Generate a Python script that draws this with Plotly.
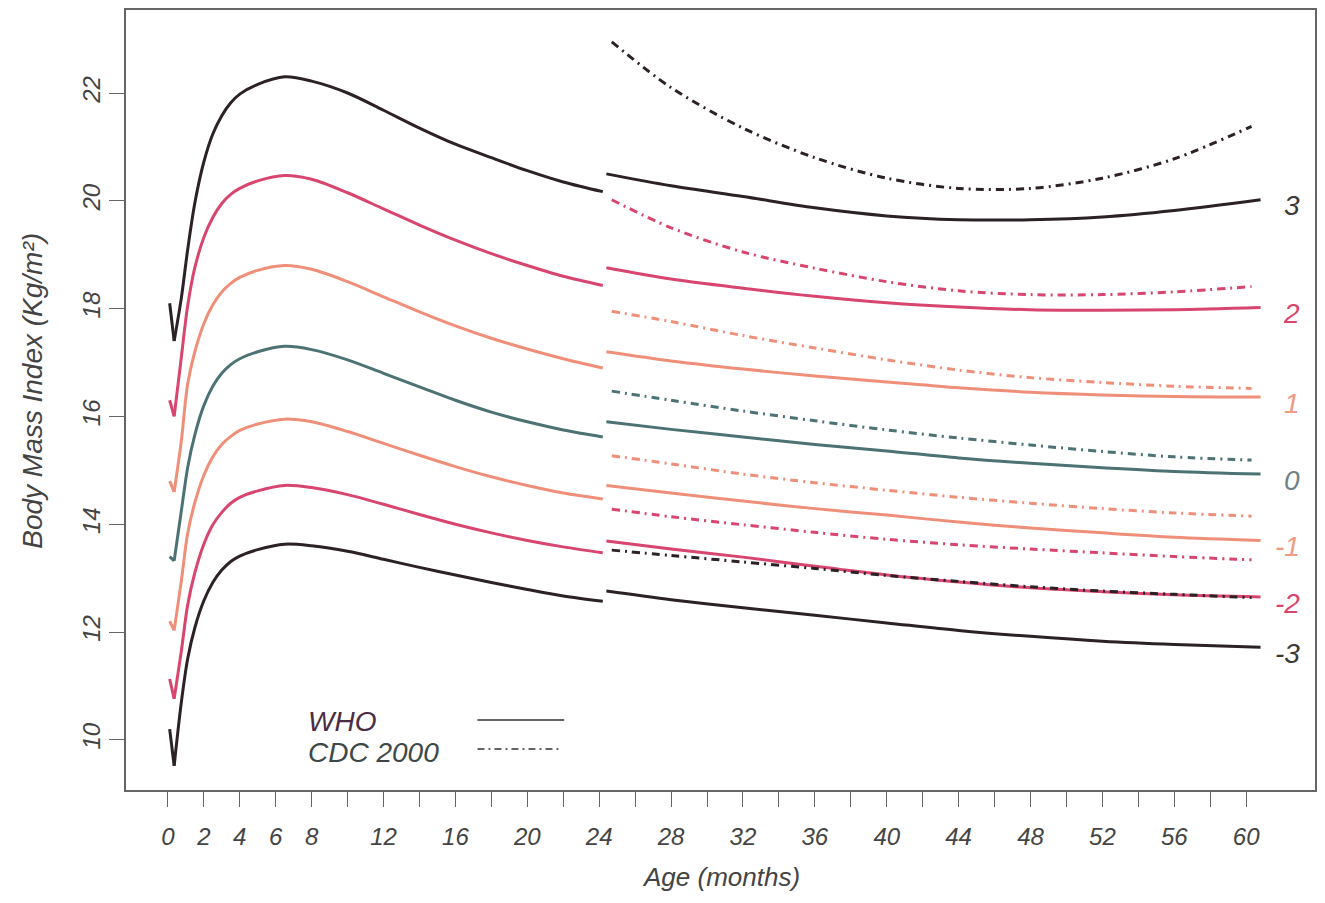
import plotly.graph_objects as go

# ---------------- data ----------------
# WHO 0-24 months (first two points: birth value and the arrow tip)
months_early = [0.1, 0.35, 0.75, 1.1, 1.5, 2.0, 2.5, 3.0, 3.5, 4.0, 5.0, 6.5, 8, 10, 12, 14, 16, 18, 20, 22, 24.2]
who_early_p3 = [18.1, 17.4, 18.2, 19.09, 19.96, 20.72, 21.24, 21.58, 21.82, 21.98, 22.16, 22.3, 22.22, 22.0, 21.68, 21.35, 21.05, 20.8, 20.56, 20.35, 20.17]
who_early_p2 = [16.3, 16.0, 17.1, 18.05, 18.76, 19.32, 19.69, 19.95, 20.12, 20.23, 20.37, 20.47, 20.4, 20.15, 19.85, 19.55, 19.27, 19.02, 18.8, 18.6, 18.43]
who_early_p1 = [14.8, 14.6, 15.55, 16.6, 17.2, 17.72, 18.07, 18.31, 18.47, 18.58, 18.71, 18.8, 18.73, 18.5, 18.22, 17.94, 17.68, 17.45, 17.25, 17.07, 16.9]
who_early_0 = [13.4, 13.32, 14.25, 15.05, 15.66, 16.2, 16.56, 16.8, 16.96, 17.07, 17.2, 17.3, 17.24, 17.05, 16.8, 16.55, 16.3, 16.08, 15.9, 15.75, 15.62]
who_early_m1 = [12.2, 12.03, 12.95, 13.83, 14.4, 14.91, 15.25, 15.48, 15.63, 15.74, 15.86, 15.95, 15.9, 15.72, 15.5, 15.28, 15.07, 14.88, 14.72, 14.58, 14.47]
who_early_m2 = [11.13, 10.76, 11.65, 12.5, 13.1, 13.63, 13.99, 14.22, 14.39, 14.5, 14.62, 14.72, 14.68, 14.55, 14.37, 14.18, 14.0, 13.84, 13.7, 13.58, 13.47]
who_early_m3 = [10.2, 9.52, 10.7, 11.5, 12.08, 12.58, 12.92, 13.15, 13.31, 13.41, 13.53, 13.63, 13.6, 13.5, 13.35, 13.2, 13.06, 12.92, 12.79, 12.67, 12.57]

# WHO 24-60 months
months_late = [24.4, 28, 32, 36, 40, 44, 48, 52, 56, 60.8]
who_late_p3 = [20.5, 20.28, 20.08, 19.87, 19.72, 19.65, 19.65, 19.7, 19.82, 20.02]
who_late_p2 = [18.76, 18.55, 18.38, 18.23, 18.11, 18.03, 17.98, 17.97, 17.98, 18.02]
who_late_p1 = [17.2, 17.03, 16.88, 16.75, 16.64, 16.53, 16.45, 16.4, 16.37, 16.36]
who_late_0 = [15.9, 15.76, 15.62, 15.48, 15.36, 15.23, 15.13, 15.05, 14.98, 14.93]
who_late_m1 = [14.72, 14.58, 14.43, 14.29, 14.17, 14.04, 13.93, 13.84, 13.76, 13.7]
who_late_m2 = [13.69, 13.54, 13.39, 13.22, 13.06, 12.93, 12.82, 12.75, 12.69, 12.65]
who_late_m3 = [12.76, 12.6, 12.45, 12.31, 12.17, 12.03, 11.92, 11.83, 11.77, 11.72]

# CDC 2000, 24-60 months
months_cdc = [24.7, 28, 32, 36, 40, 44, 48, 52, 56, 60.3]
cdc_p3 = [22.95, 22.1, 21.35, 20.8, 20.42, 20.23, 20.23, 20.42, 20.78, 21.38]
cdc_p2 = [20.02, 19.5, 19.05, 18.75, 18.5, 18.33, 18.26, 18.26, 18.31, 18.41]
cdc_p1 = [17.95, 17.76, 17.5, 17.27, 17.05, 16.86, 16.72, 16.63, 16.56, 16.52]
cdc_0 = [16.47, 16.3, 16.1, 15.92, 15.75, 15.6, 15.47, 15.35, 15.25, 15.19]
cdc_m1 = [15.27, 15.12, 14.93, 14.77, 14.63, 14.5, 14.39, 14.29, 14.21, 14.15]
cdc_m2 = [14.28, 14.14, 13.99, 13.85, 13.72, 13.62, 13.54, 13.47, 13.4, 13.34]
cdc_m3 = [13.52, 13.42, 13.3, 13.18, 13.05, 12.94, 12.84, 12.76, 12.7, 12.64]

z_labels = ["3", "2", "1", "0", "-1", "-2", "-3"]
x_tick_vals = list(range(0, 61, 2))
x_tick_text = ["0", "2", "4", "6", "8", "", "12", "", "16", "", "20", "", "24", "", "28", "", "32", "",
               "36", "", "40", "", "44", "", "48", "", "52", "", "56", "", "60"]
y_tick_vals = [10, 12, 14, 16, 18, 20, 22]

# ---------------- styles ----------------
FONT = "Liberation Sans, Arial, sans-serif"
DARK = "#2b2126"
PINK = "#d8456e"
SALMON = "#ef8f79"
TEAL = "#4d7274"
line_colors = [DARK, PINK, SALMON, TEAL, SALMON, PINK, DARK]
label_colors = ["#3a3a3a", "#d8456e", "#ee9a85", "#6f8286", "#ee9a85", "#d8456e", "#3a3a3a"]

who_early = [who_early_p3, who_early_p2, who_early_p1, who_early_0, who_early_m1, who_early_m2, who_early_m3]
who_late = [who_late_p3, who_late_p2, who_late_p1, who_late_0, who_late_m1, who_late_m2, who_late_m3]
cdc = [cdc_p3, cdc_p2, cdc_p1, cdc_0, cdc_m1, cdc_m2, cdc_m3]

fig = go.Figure()
LW = 3
for vals, col in zip(who_early, line_colors):
    # arrow wing (birth value down to tip)
    fig.add_trace(go.Scatter(x=months_early[:2], y=vals[:2], mode="lines",
                             line=dict(color=col, width=LW), showlegend=False, hoverinfo="skip"))
    fig.add_trace(go.Scatter(x=months_early[1:], y=vals[1:], mode="lines",
                             line=dict(color=col, width=LW, shape="spline", smoothing=0.9),
                             showlegend=False))
for vals, col in zip(who_late, line_colors):
    fig.add_trace(go.Scatter(x=months_late, y=vals, mode="lines",
                             line=dict(color=col, width=LW, shape="spline", smoothing=0.9),
                             showlegend=False))
for vals, col in zip(cdc, line_colors):
    fig.add_trace(go.Scatter(x=months_cdc, y=vals, mode="lines",
                             line=dict(color=col, width=LW, shape="spline", smoothing=0.9,
                                       dash="8px,5px,2px,5px"),
                             showlegend=False))

tick_font = dict(family=FONT, size=24, color="#444444", style="italic")
annotations = []
for lab, vals, col in zip(z_labels, who_late, label_colors):
    annotations.append(dict(x=63.1, y=vals[-1], xref="x", yref="y", text=lab, showarrow=False,
                            xanchor="right", yanchor="middle", yshift=-6,
                            font=dict(family=FONT, size=28, color=col, style="italic")))
# axis titles
annotations.append(dict(x=-0.0781, y=0.512, xref="paper", yref="paper", text="Body Mass Index (Kg/m²)",
                        textangle=-90, showarrow=False, xanchor="center", yanchor="middle",
                        font=dict(family=FONT, size=28, color="#444444", style="italic")))
annotations.append(dict(x=0.5, y=-0.111, xref="paper", yref="paper", text="Age (months)",
                        showarrow=False, xanchor="center", yanchor="middle",
                        font=dict(family=FONT, size=26, color="#444444", style="italic")))
# legend texts
annotations.append(dict(x=0.1511, y=0.0872, xref="paper", yref="paper", text="WHO", showarrow=False,
                        xanchor="left", yanchor="middle",
                        font=dict(family=FONT, size=28, color="#4a2c44", style="italic")))
annotations.append(dict(x=0.1511, y=0.0487, xref="paper", yref="paper", text="CDC 2000", showarrow=False,
                        xanchor="left", yanchor="middle",
                        font=dict(family=FONT, size=28, color="#3c4848", style="italic")))

shapes = [
    dict(type="line", xref="paper", yref="paper", x0=0.2956, x1=0.3686, y0=0.0897, y1=0.0897,
         line=dict(color="#333333", width=1.6)),
    dict(type="line", xref="paper", yref="paper", x0=0.2956, x1=0.3644, y0=0.0526, y1=0.0526,
         line=dict(color="#333333", width=1.6, dash="7px,4px,2px,4px")),
]

# page body has an 8px margin: figure sized to fit the window exactly
fig.update_layout(
    width=1309, height=887,
    margin=dict(l=118, r=0, t=2, b=105),
    plot_bgcolor="white", paper_bgcolor="white",
    showlegend=False,
    annotations=annotations,
    shapes=shapes,
    xaxis=dict(range=[-2.33, 63.83], tickmode="array", tickvals=x_tick_vals, ticktext=x_tick_text,
               showline=True, linecolor="#666666", linewidth=1.5, mirror=True,
               ticks="outside", ticklen=15, tickcolor="#666666", tickwidth=1.2,
               showgrid=False, zeroline=False, tickfont=tick_font, ticklabelstandoff=9),
    yaxis=dict(range=[9.07, 23.54], tickmode="array", tickvals=y_tick_vals, tickangle=-90,
               showline=True, linecolor="#666666", linewidth=1.5, mirror=True,
               ticks="outside", ticklen=15, tickcolor="#666666", tickwidth=1.2,
               showgrid=False, zeroline=False, tickfont=tick_font, ticklabelstandoff=0),
)

fig.write_html("out.html")
